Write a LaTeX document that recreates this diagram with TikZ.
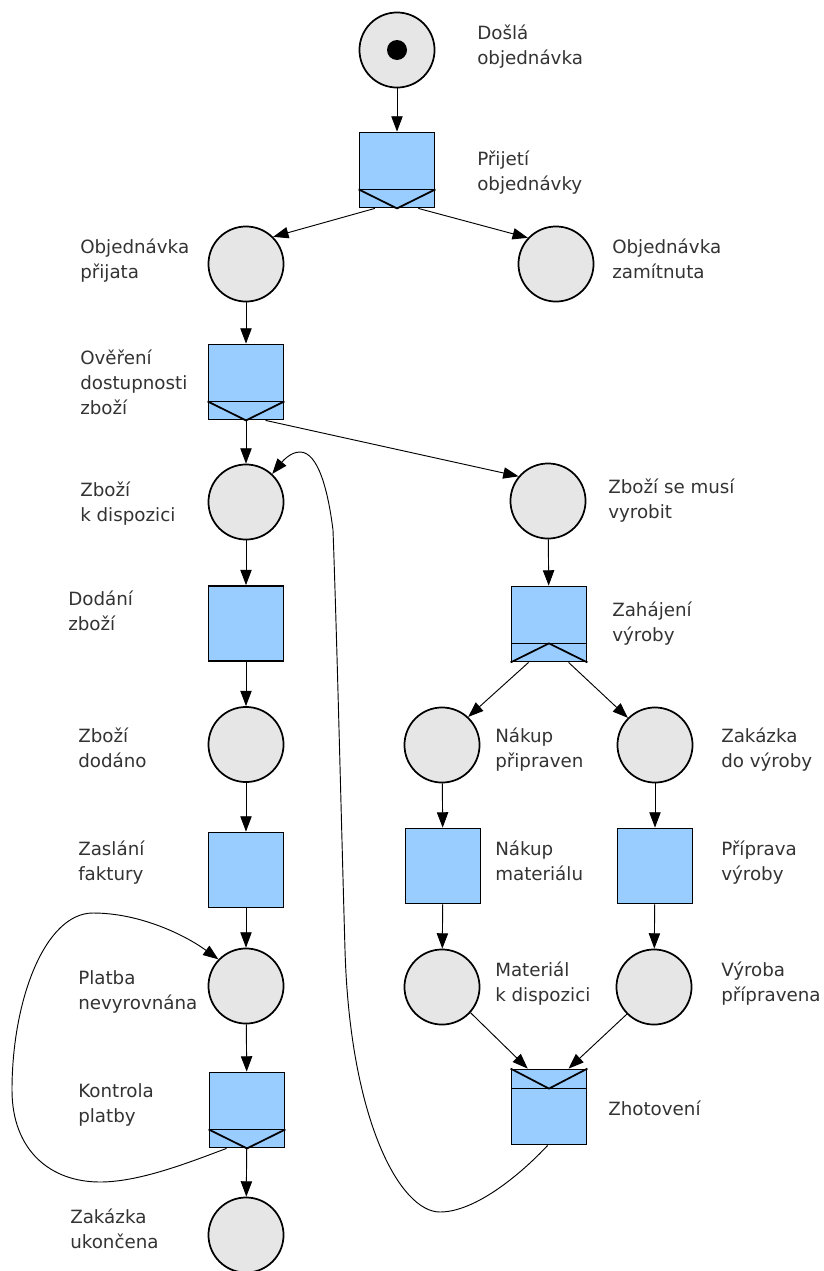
\documentclass[tikz,border=0pt]{standalone}
\usepackage{fontspec}
\setmainfont{DejaVu Sans}
\usetikzlibrary{arrows.meta}
\definecolor{txt}{HTML}{333333}
\definecolor{placefill}{HTML}{E6E6E6}
\definecolor{transfill}{HTML}{99CCFF}
\newcommand\lbltext[1]{\begin{tabular}[t]{@{}l@{}}#1\end{tabular}}
\tikzset{
  place/.style={circle, draw=black, fill=placefill, line width=1.3pt, minimum size=56.3pt, inner sep=0pt},
  trans/.style={rectangle, draw=black, fill=transfill, line width=1.3pt, minimum size=56.3pt, inner sep=0pt},
  mark line/.style={draw=black, line width=1.3pt},
  token/.style={circle, fill=black, minimum size=15pt, inner sep=0pt},
  arc/.style={-{Triangle[length=11.5pt,width=8.5pt]}, line width=0.7pt, draw=black},
  lbl/.style={anchor=base west, inner sep=0pt, text=txt, font=\fontsize{13.7pt}{19.1pt}\selectfont},
}
\begin{document}
\begin{tikzpicture}[x=0.75pt, y=-0.75pt]
\fill[white] (0,0) rectangle (824,1271);
\useasboundingbox (0,0) rectangle (824,1271);

% places
\node[place] (p0) at (397,50) {};
\node[token] (tok) at (397,50) {};
\node[place] (p2) at (246,264) {};
\node[place] (p3) at (556,264) {};
\node[place] (p5) at (246,502) {};
\node[place] (p4) at (548,501) {};
\node[place] (p6) at (246,744.5) {};
\node[place] (p7) at (442,745) {};
\node[place] (p8) at (655,745) {};
\node[place] (p9) at (246,986) {};
\node[place] (p10) at (442,987) {};
\node[place] (p11) at (654,987) {};
\node[place] (p12) at (246,1235) {};

% transitions
\node[trans] (t1) at (397,170) {};
\node[trans] (t2) at (246,382) {};
\node[trans] (t3) at (246,623.5) {};
\node[trans] (t4) at (549,624) {};
\node[trans] (t5) at (246,870) {};
\node[trans] (t6) at (443,866) {};
\node[trans] (t7) at (655,866) {};
\node[trans] (t8) at (247,1110) {};
\node[trans] (t9) at (549,1107) {};

% decision strips at the bottom (V shape)
\foreach \t in {t1,t2,t8}{
  \draw[mark line] ([yshift=14.25pt]\t.south west) -- ([yshift=14.25pt]\t.south east);
  \draw[mark line] ([yshift=14.25pt]\t.south west) -- (\t.south) -- ([yshift=14.25pt]\t.south east);
}
% split strip (inverted V)
\draw[mark line] ([yshift=14.25pt]t4.south west) -- ([yshift=14.25pt]t4.south east);
\draw[mark line] (t4.south west) -- ([yshift=14.25pt]t4.south) -- (t4.south east);
% join strip at the top
\draw[mark line] ([yshift=-15pt]t9.north west) -- ([yshift=-15pt]t9.north east);
\draw[mark line] (t9.north west) -- ([yshift=-15pt]t9.north) -- (t9.north east);

% arcs
\draw[arc] (p0) -- (t1);
\draw[arc] (t1.-120) -- (p2.45);
\draw[arc] (t1.-61) -- (p3.137);
\draw[arc] (p2) -- (t2);
\draw[arc] (t2) -- (p5);
\draw[arc] (t2.-63) -- (p4.140);
\draw[arc] (p5) -- (t3);
\draw[arc] (t3) -- (p6);
\draw[arc] (p6) -- (t5);
\draw[arc] (t5) -- (p9);
\draw[arc] (p9) -- (t8);
\draw[arc] (t8) -- (p12);
\draw[arc] (p4) -- (t4);
\draw[arc] (t4.-118) -- (p7.47);
\draw[arc] (t4.-63) -- (p8.135);
\draw[arc] (p7) -- (t6);
\draw[arc] (p8) -- (t7);
\draw[arc] (t6) -- (p10);
\draw[arc] (t7) -- (p11);
\draw[arc] (p10.-42) -- (t9.119);
\draw[arc] (p11.-135) -- (t9.63);

% return arc: Zhotovení -> Zboží k dispozici
\draw[arc] (t9.-92) .. controls (520,1175) and (475,1212) .. (440,1212)
  .. controls (400,1212) and (350,1120) .. (345,950)
  .. controls (341,810) and (337,640) .. (333,530)
  .. controls (328,490) and (318,452) .. (300,452)
  .. controls (290,452) and (282,462) .. (p5.47);

% return arc: Kontrola platby -> Platba nevyrovnána
\draw[arc] (t8.-118) .. controls (190,1162) and (140,1182) .. (100,1182)
  .. controls (50,1182) and (12,1150) .. (12,1090)
  .. controls (12,1000) and (45,913) .. (93,913)
  .. controls (140,913) and (185,935) .. (p9.136);

% labels
\node[lbl] (l0) at (477,39) {\lbltext{Došlá\\objednávka}};
\node[lbl] (l1) at (477,165) {\lbltext{Přijetí\\objednávky}};
\node[lbl] (l2) at (80,253) {\lbltext{Objednávka\\přijata}};
\node[lbl] (l3) at (612,253) {\lbltext{Objednávka\\zamítnuta}};
\node[lbl] (l4) at (80,364) {\lbltext{Ověření\\dostupnosti\\zboží}};
\node[lbl] (l5) at (80,496) {\lbltext{Zboží\\k dispozici}};
\node[lbl] (l6) at (608,493) {\lbltext{Zboží se musí\\vyrobit}};
\node[lbl] (l7) at (68,605) {\lbltext{Dodání\\zboží}};
\node[lbl] (l8) at (612,616) {\lbltext{Zahájení\\výroby}};
\node[lbl] (l9) at (78,742) {\lbltext{Zboží\\dodáno}};
\node[lbl] (l10) at (495,742) {\lbltext{Nákup\\připraven}};
\node[lbl] (l11) at (721,742) {\lbltext{Zakázka\\do výroby}};
\node[lbl] (l12) at (78,855) {\lbltext{Zaslání\\faktury}};
\node[lbl] (l13) at (495,855) {\lbltext{Nákup\\materiálu}};
\node[lbl] (l14) at (721,855) {\lbltext{Příprava\\výroby}};
\node[lbl] (l15) at (78,984) {\lbltext{Platba\\nevyrovnána}};
\node[lbl] (l16) at (495,976) {\lbltext{Materiál\\k dispozici}};
\node[lbl] (l17) at (721,976) {\lbltext{Výroba\\přípravena}};
\node[lbl] (l18) at (78,1097) {\lbltext{Kontrola\\platby}};
\node[lbl] (l19) at (608,1115) {\lbltext{Zhotovení}};
\node[lbl] (l20) at (70,1223) {\lbltext{Zakázka\\ukončena}};
\end{tikzpicture}
\end{document}
